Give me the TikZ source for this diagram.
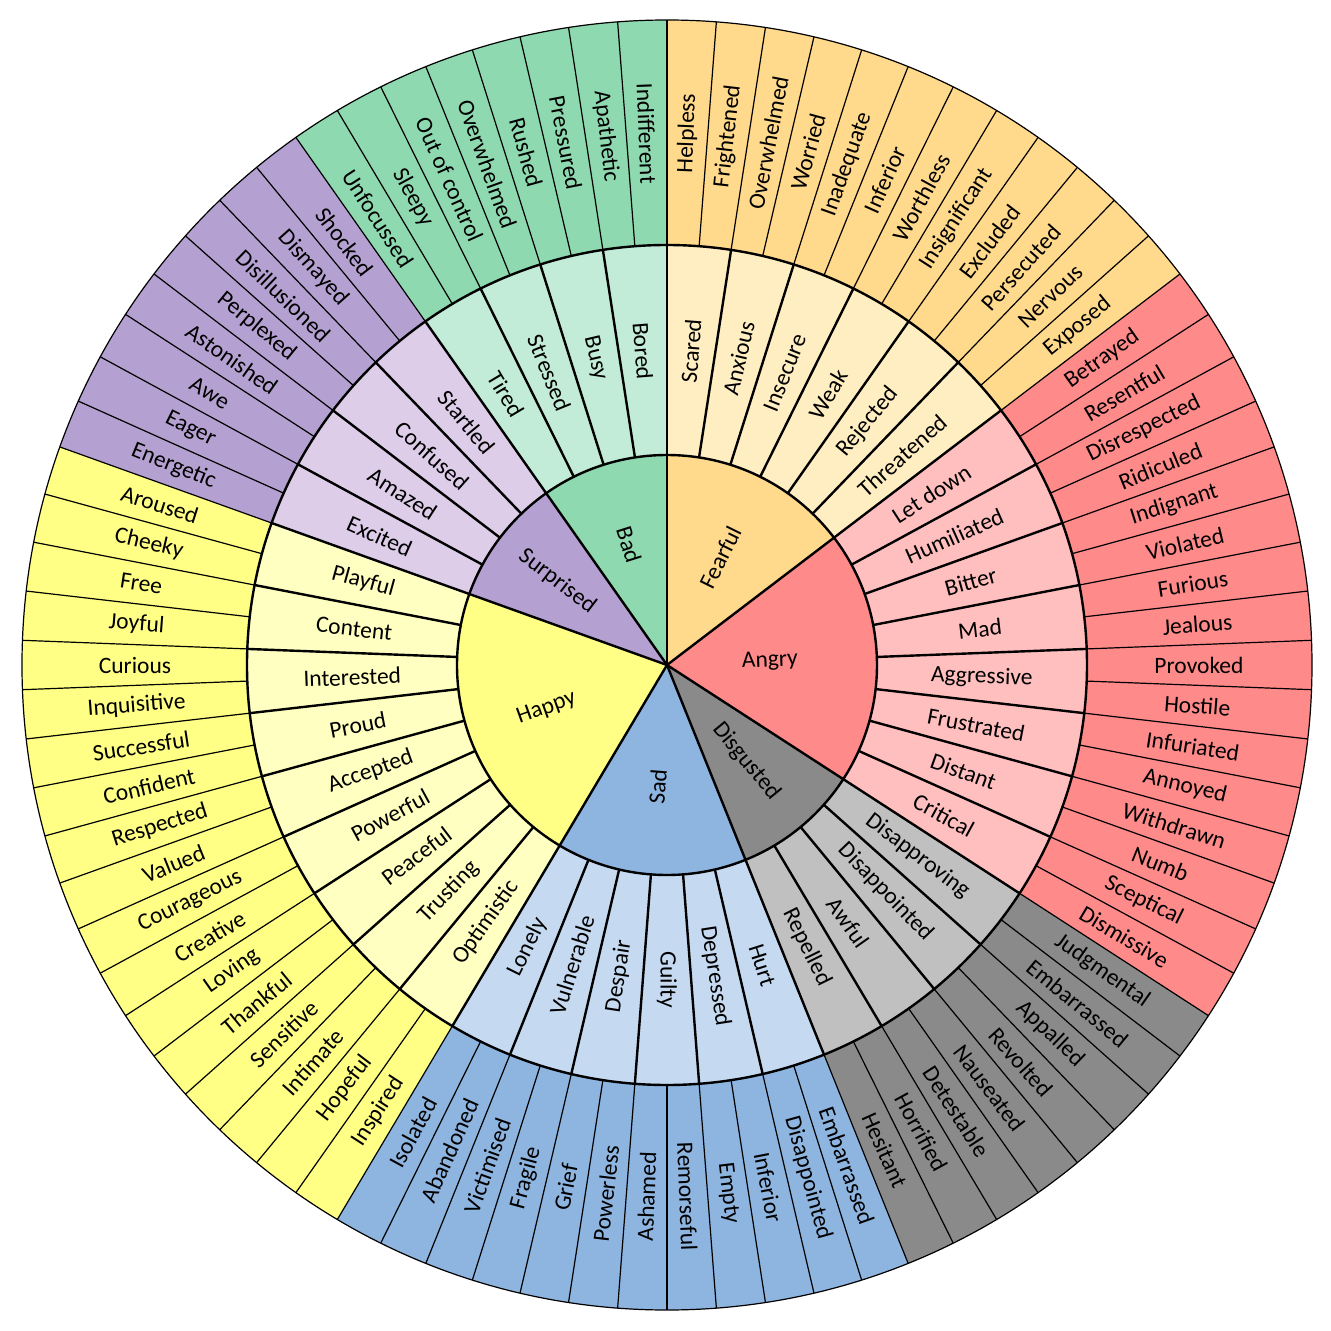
\documentclass[tikz,border=0pt]{standalone}
\usepackage{fontspec}
\setmainfont{Carlito}
\usepackage{tikz}

\definecolor{fearDark}{HTML}{FFD98C}
\definecolor{fearLight}{HTML}{FFEEC2}
\definecolor{angryDark}{HTML}{FF8A8A}
\definecolor{angryLight}{HTML}{FFBFBF}
\definecolor{disgDark}{HTML}{8A8A8A}
\definecolor{disgLight}{HTML}{C0C0C0}
\definecolor{sadDark}{HTML}{8EB4E0}
\definecolor{sadLight}{HTML}{C5D9F1}
\definecolor{happyDark}{HTML}{FFFF86}
\definecolor{happyLight}{HTML}{FFFFC2}
\definecolor{surpDark}{HTML}{B5A1D1}
\definecolor{surpLight}{HTML}{DDCDE9}
\definecolor{badDark}{HTML}{8FD9B0}
\definecolor{badLight}{HTML}{C3ECD8}

\begin{document}
\begin{tikzpicture}[x=1pt, y=1pt,
    thinline/.style={black, line width=1.2pt},
    thickline/.style={black, line width=2.4pt},
    lbl/.style={font=\fontsize{23.5}{28}\selectfont, inner sep=0pt, text=black}]
            \useasboundingbox (-667,-666) rectangle (664,665);
            \pgfmathsetmacro{\dang}{360/82}

            \foreach \s/\e/\col in {0/12/fear, 12/28/angry, 28/36/disg, 36/48/sad, 48/66/happy, 66/74/surp, 74/82/bad} {
                \fill[fill=\col Dark] (0,0) -- ({90-\s*\dang}:210) arc[start angle={90-\s*\dang}, end angle={90-\e*\dang}, radius=210] -- cycle;
                \fill[fill=\col Light] ({90-\s*\dang}:210) arc[start angle={90-\s*\dang}, end angle={90-\e*\dang}, radius=210]
                    -- ({90-\e*\dang}:420) arc[start angle={90-\e*\dang}, end angle={90-\s*\dang}, radius=420] -- cycle;
                \fill[fill=\col Dark] ({90-\s*\dang}:420) arc[start angle={90-\s*\dang}, end angle={90-\e*\dang}, radius=420]
                    -- ({90-\e*\dang}:645) arc[start angle={90-\e*\dang}, end angle={90-\s*\dang}, radius=645] -- cycle;
            }

            \foreach \k in {0,...,81}
                \draw[thinline] ({90-\k*\dang}:420) -- ({90-\k*\dang}:645);
            \foreach \k in {0,2,...,80}
                \draw[thickline] ({90-\k*\dang}:210) -- ({90-\k*\dang}:420);
            \foreach \k in {0,12,28,36,48,66,74}
                \draw[thickline] (0,0) -- ({90-\k*\dang}:210);

            \draw[thickline] (0,0) circle[radius=210];
            \draw[thickline] (0,0) circle[radius=420];
            \draw[thinline] (0,0) circle[radius=645];

            \foreach \w [count=\k from 0] in {Helpless, Frightened, Overwhelmed, Worried, Inadequate, Inferior, Worthless, Insignificant, Excluded, Persecuted, Nervous, Exposed,
                Betrayed, Resentful, Disrespected, Ridiculed, Indignant, Violated, Furious, Jealous, Provoked, Hostile, Infuriated, Annoyed, Withdrawn, Numb, Sceptical, Dismissive,
                Judgmental, Embarrassed, Appalled, Revolted, Nauseated, Detestable, Horrified, Hesitant,
                Embarrassed, Disappointed, Inferior, Empty, Remorseful, Ashamed, Powerless, Grief, Fragile, Victimised, Abandoned, Isolated,
                Inspired, Hopeful, Intimate, Sensitive, Thankful, Loving, Creative, Courageous, Valued, Respected, Confident, Successful, Inquisitive, Curious, Joyful, Free, Cheeky, Aroused,
                Energetic, Eager, Awe, Astonished, Perplexed, Disillusioned, Dismayed, Shocked,
                Unfocussed, Sleepy, Out of control, Overwhelmed, Rushed, Pressured, Apathetic, Indifferent} {
                \pgfmathsetmacro{\a}{90-(\k+0.5)*\dang}
                \pgfmathsetmacro{\rot}{cos(\a)<-0.01 ? \a+180 : \a}
                \node[lbl, rotate=\rot] (outer\k) at (\a:532) {\w};
            }

            \foreach \w [count=\k from 0] in {Scared, Anxious, Insecure, Weak, Rejected, Threatened,
                Let down, Humiliated, Bitter, Mad, Aggressive, Frustrated, Distant, Critical,
                Disapproving, Disappointed, Awful, Repelled,
                Hurt, Depressed, Guilty, Despair, Vulnerable, Lonely,
                Optimistic, Trusting, Peaceful, Powerful, Accepted, Proud, Interested, Content, Playful,
                Excited, Amazed, Confused, Startled,
                Tired, Stressed, Busy, Bored} {
                \pgfmathsetmacro{\a}{90-(2*\k+1)*\dang}
                \pgfmathsetmacro{\rot}{cos(\a)<-0.01 ? \a+180 : \a}
                \node[lbl, rotate=\rot] (middle\k) at (\a:315) {\w};
            }

            \foreach \w/\m/\rad [count=\k] in {Fearful/6/120, Angry/20/103, Disgusted/32/125, Sad/42/122, Happy/57/128, Surprised/70/138, Bad/78/126} {
                \pgfmathsetmacro{\a}{90-\m*\dang}
                \pgfmathsetmacro{\rot}{cos(\a)<-0.01 ? \a+180 : \a}
                \node[lbl, rotate=\rot] (core\k) at (\a:\rad) {\w};
            }
        \end{tikzpicture}
\end{document}
